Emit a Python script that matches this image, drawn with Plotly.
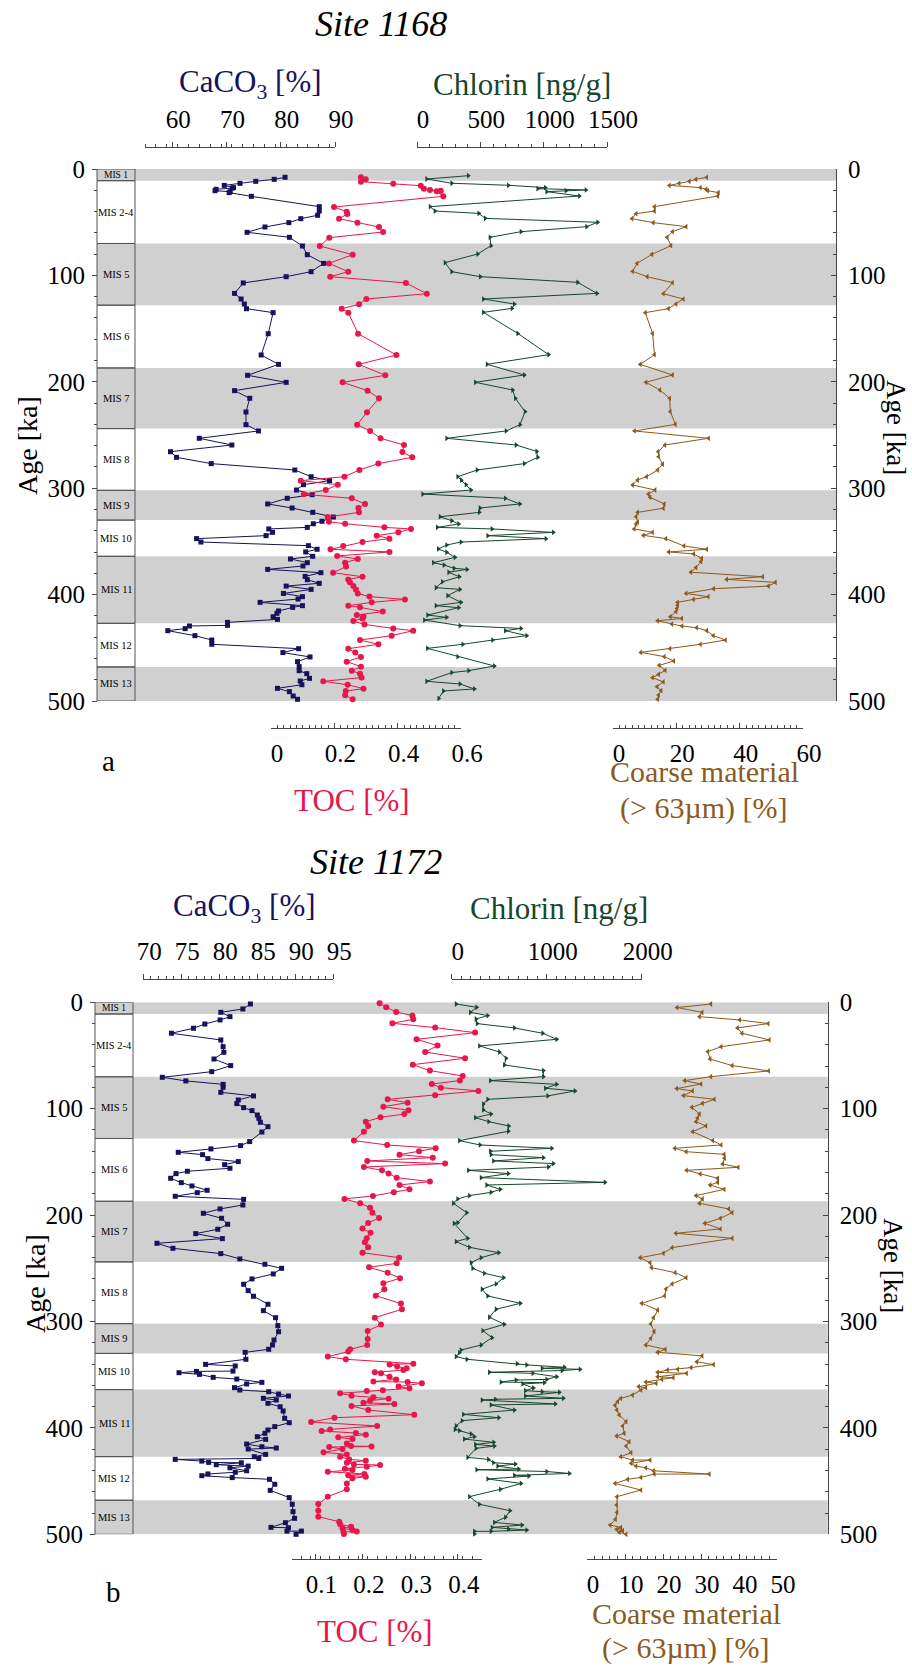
import plotly.graph_objects as go

# ---------------- data (age [ka], value) ----------------
caco3_a = [(7.8,80.8),(9.7,78.8),(11.6,75.4),(13.5,72.5),(15.4,69.6),(17.5,71.3),(17.9,71.1),(19.1,68.1),(20.4,67.9),(21.3,70.7),(22.2,70.5),(25.7,74.6),(35.4,87.1),(39.5,87.1),(43.5,86.8),(46.7,83.7),(50.4,81.5),(54.5,77.1),(59.5,73.8),(64.2,81.6),(72.4,84.0),(80.5,84.9),(88.7,87.9),(96.5,85.6),(101.2,81.0),(107.1,73.1),(116.9,71.5),(122.2,72.7),(126.9,73.3),(131.3,73.7),(135.0,78.6),(154.8,77.7),(174.8,76.4),(183.6,79.6),(193.9,73.9),(200.5,81.0),(208.3,71.5),(215.5,74.3),(228.4,73.6),(240.3,73.6),(246.2,75.9),(253.1,65.0),(259.4,71.0),(265.7,59.7),(271.0,60.8),(276.9,67.2),(282.9,82.6),(289.2,85.6),(292.9,89.0),(296.7,84.2),(301.7,82.9),(306.1,85.8),(309.5,81.2),(314.8,77.6),(318.6,82.1),(322.7,85.9),(327.1,89.7),(331.1,87.6),(333.4,86.0),(336.8,84.9),(338.3,77.8),(341.5,78.5),(344.6,77.3),(347.4,64.5),(350.6,65.3),(354.0,85.1),(357.4,86.7),(359.9,84.6),(364.0,85.9),(366.5,81.8),(370.0,84.9),(373.1,84.1),(376.3,77.6),(379.4,87.4),(382.9,84.5),(386.0,84.9),(389.4,87.1),(392.0,81.0),(395.1,85.6),(398.9,80.5),(401.9,84.0),(404.2,83.2),(407.3,76.2),(410.4,84.0),(412.0,82.2),(415.4,79.6),(417.6,79.3),(420.8,78.6),(423.3,79.4),(426.1,70.2),(428.9,70.2),(429.5,63.2),(432.0,62.4),(433.9,59.2),(438.6,64.2),(442.7,67.3),(446.7,67.3),(450.8,83.3),(454.5,80.4),(458.6,85.4),(463.0,83.1),(467.7,83.4),(471.5,83.4),(474.3,84.8),(478.7,85.3),(481.2,83.6),(484.7,83.9),(488.1,79.4),(491.2,81.6),(495.3,82.3),(498.4,83.1)]

toc_a = [(7.8,0.284),(9.7,0.299),(11.9,0.284),(13.8,0.386),(15.7,0.473),(18.5,0.483),(19.7,0.502),(20.4,0.536),(21.0,0.523),(25.7,0.544),(35.7,0.199),(40.1,0.239),(42.3,0.241),(46.7,0.215),(50.4,0.273),(54.5,0.341),(59.2,0.354),(64.5,0.184),(72.4,0.154),(80.5,0.258),(88.7,0.183),(96.5,0.244),(101.2,0.187),(107.1,0.426),(117.2,0.492),(122.2,0.301),(127.2,0.278),(131.3,0.223),(135.0,0.244),(154.8,0.275),(174.8,0.396),(183.6,0.277),(193.9,0.361),(200.5,0.226),(208.3,0.305),(215.5,0.341),(228.7,0.303),(240.3,0.272),(246.2,0.313),(253.1,0.346),(259.4,0.420),(266.0,0.415),(271.0,0.446),(276.9,0.339),(282.9,0.279),(289.2,0.232),(292.9,0.094),(296.7,0.211),(301.7,0.173),(305.8,0.104),(309.5,0.255),(314.8,0.297),(318.6,0.276),(322.7,0.278),(327.1,0.179),(331.6,0.183),(333.4,0.234),(336.8,0.358),(338.3,0.442),(341.5,0.402),(344.6,0.334),(347.4,0.374),(350.6,0.289),(354.3,0.228),(357.4,0.188),(359.9,0.374),(363.7,0.209),(366.5,0.274),(370.0,0.234),(373.7,0.237),(379.4,0.196),(383.2,0.289),(385.7,0.244),(388.5,0.249),(392.0,0.260),(395.1,0.268),(398.9,0.274),(401.9,0.311),(404.5,0.423),(407.3,0.318),(410.4,0.244),(412.0,0.281),(416.0,0.353),(419.2,0.271),(420.8,0.292),(422.4,0.289),(424.9,0.260),(428.0,0.295),(431.8,0.386),(433.9,0.449),(438.6,0.381),(442.7,0.281),(446.7,0.339),(450.8,0.244),(454.5,0.266),(458.6,0.284),(463.0,0.239),(467.7,0.284),(471.5,0.255),(474.3,0.281),(478.0,0.286),(481.5,0.165),(484.7,0.242),(488.4,0.292),(490.6,0.236),(494.7,0.234),(498.4,0.258)]

chlorin_a = [(6.3,405),(9.4,76),(13.4,274),(15.3,721),(17.5,1013),(18.5,953),(19.7,1334),(20.4,1176),(21.3,1024),(25.4,1282),(35.4,103),(39.5,142),(41.7,487),(46.4,539),(50.1,1426),(54.2,1339),(58.9,821),(64.2,576),(72.1,584),(79.9,479),(88.0,221),(96.5,274),(101.2,500),(106.5,1268),(116.9,1421),(122.2,524),(126.9,768),(131.0,750),(134.7,524),(154.5,795),(174.5,1039),(183.6,553),(193.6,847),(200.5,461),(207.7,755),(215.5,776),(228.1,853),(240.3,813),(246.2,703),(253.1,234),(259.4,782),(265.4,945),(271.0,953),(276.9,847),(282.9,474),(289.2,321),(292.5,350),(296.7,387),(301.7,426),(305.5,45),(309.5,697),(314.8,813),(318.6,497),(322.7,492),(326.8,182),(330.6,274),(333.6,329),(336.8,160),(338.3,592),(341.5,1076),(344.6,558),(347.4,1018),(350.6,347),(353.4,234),(357.1,168),(360.2,234),(365.0,300),(370.0,129),(372.2,213),(375.3,292),(376.3,395),(379.0,250),(383.2,334),(388.0,200),(393.5,150),(395.1,339),(401.0,242),(407.3,347),(410.4,150),(412.3,329),(419.2,84),(421.4,234),(423.9,58),(429.2,339),(431.8,821),(433.9,697),(438.6,866),(442.7,597),(446.7,361),(450.5,82),(458.3,321),(467.1,611),(471.5,408),(473.3,274),(481.5,76),(484.0,339),(488.7,453),(490.6,208),(497.6,171)]

coarse_a = [(7.8,29.6),(9.7,26.2),(11.6,24.1),(13.5,20.9),(15.4,17.8),(17.5,27.6),(19.1,29.4),(20.4,29.9),(22.2,33.3),(25.4,33.1),(35.4,13.1),(39.5,13.1),(42.0,7.3),(46.7,6.0),(50.4,12.7),(54.2,23.1),(58.9,18.8),(64.2,17.1),(72.1,18.3),(80.2,12.3),(88.7,7.6),(96.2,6.2),(101.2,10.8),(106.8,18.8),(117.2,15.9),(122.2,22.2),(126.9,19.9),(131.3,17.5),(135.0,10.2),(154.5,12.5),(174.5,13.1),(183.6,8.6),(193.6,18.8),(200.5,10.4),(207.7,14.8),(215.5,17.9),(228.1,18.1),(240.0,19.7),(246.2,6.8),(253.1,30.2),(259.4,16.4),(265.7,14.3),(270.4,14.4),(277.3,15.7),(282.9,14.1),(289.2,10.6),(292.3,7.8),(297.0,6.2),(301.7,13.3),(305.5,11.2),(308.6,11.7),(314.8,16.2),(318.9,15.9),(322.7,7.8),(326.8,7.3),(331.8,7.8),(333.6,7.3),(338.3,6.7),(341.5,12.5),(344.3,9.6),(347.4,16.7),(354.3,22.4),(357.4,29.6),(359.9,17.6),(361.8,25.5),(365.9,28.0),(369.0,27.8),(374.6,26.2),(379.0,24.6),(383.2,47.3),(385.7,35.9),(388.5,51.3),(392.0,49.1),(394.5,31.8),(398.9,23.1),(402.0,30.1),(404.5,25.4),(407.3,20.4),(409.9,20.4),(413.0,20.2),(416.1,19.9),(420.8,18.1),(422.4,21.7),(424.6,14.1),(427.7,18.6),(429.6,21.8),(431.1,26.4),(433.9,29.6),(438.6,31.7),(442.7,35.5),(446.7,27.6),(450.8,18.0),(454.3,8.8),(458.3,16.2),(462.4,19.2),(466.5,14.6),(471.2,16.5),(474.9,14.4),(478.1,12.5),(482.1,15.9),(486.5,13.9),(490.3,15.2),(494.4,14.4),(498.4,14.1)]

caco3_b = [(1.6,84.1),(6.3,83.1),(9.4,80.2),(13.5,81.4),(16.6,80.1),(20.4,78.1),(24.4,76.6),(29.1,73.7),(35.4,80.2),(41.7,80.5),(47.0,80.6),(53.3,79.3),(59.5,81.5),(65.2,79.0),(70.5,72.5),(73.9,75.6),(77.1,80.5),(79.9,80.5),(84.6,80.2),(88.0,84.5),(91.8,82.5),(95.2,82.3),(99.0,83.2),(101.8,84.3),(105.9,85.0),(109.0,85.2),(112.8,85.4),(116.9,86.4),(121.9,85.6),(130.9,84.0),(134.7,82.8),(137.8,78.9),(141.0,74.6),(143.2,77.8),(146.9,78.5),(149.7,82.5),(152.6,80.7),(156.0,81.4),(158.8,75.8),(161.0,74.3),(165.4,73.6),(169.5,75.0),(172.6,76.4),(176.7,78.4),(178.9,77.1),(182.3,74.2),(185.2,83.2),(190.5,83.1),(194.2,80.1),(198.3,77.9),(203.0,80.3),(208.6,81.1),(213.3,79.8),(217.4,76.9),(222.1,80.4),(226.5,71.8),(231.2,73.9),(236.2,80.2),(241.2,82.7),(246.2,86.0),(250.0,88.2),(255.3,87.1),(260.0,84.3),(265.0,83.2),(271.0,83.8),(276.3,84.5),(283.8,86.4),(289.8,85.8),(296.4,87.4),(303.9,87.7),(309.6,87.8),(317.4,87.2),(322.1,87.0),(326.1,86.5),(329.0,83.4),(335.5,83.5),(340.3,78.2),(341.8,82.1),(346.6,81.8),(346.9,77.0),(348.1,74.7),(349.7,77.4),(352.5,79.2),(354.1,82.3),(357.2,85.6),(358.7,83.6),(362.2,82.0),(364.4,82.7),(366.0,86.5),(368.2,87.8),(370.0,89.1),(372.2,85.8),(373.8,87.5),(376.9,86.4),(380.1,88.0),(384.1,88.4),(391.0,88.6),(395.1,89.2),(398.8,87.3),(402.0,86.4),(405.1,86.0),(408.3,85.0),(410.8,86.1),(415.2,83.6),(417.7,85.6),(418.9,87.5),(419.9,83.8),(424.9,86.1),(427.1,84.6),(428.7,85.2),(429.6,74.2),(431.2,77.7),(432.4,78.6),(432.8,82.9),(434.6,79.6),(435.9,83.8),(437.5,81.4),(440.3,83.6),(441.7,82.1),(443.3,78.5),(444.9,77.7),(446.7,81.7),(448.3,86.6),(453.0,87.3),(458.7,86.7),(465.5,89.2),(471.8,89.6),(478.7,89.7),(485.0,89.9),(489.1,88.7),(493.5,86.8),(493.8,89.1),(497.0,88.9),(497.0,90.8),(500.0,90.1)]

toc_b = [(0.9,0.235),(4.7,0.249),(9.1,0.270),(12.5,0.304),(16.0,0.306),(19.7,0.262),(23.8,0.352),(28.5,0.436),(34.8,0.313),(40.7,0.357),(46.7,0.331),(52.6,0.415),(58.6,0.305),(64.2,0.341),(69.2,0.410),(73.6,0.404),(76.8,0.345),(80.2,0.364),(83.3,0.443),(87.4,0.352),(91.2,0.252),(94.3,0.294),(98.1,0.243),(101.5,0.296),(105.0,0.287),(108.1,0.237),(112.2,0.206),(116.2,0.211),(121.6,0.202),(130.0,0.181),(134.1,0.251),(137.2,0.353),(140.0,0.318),(143.2,0.277),(146.0,0.347),(149.1,0.209),(151.6,0.373),(154.8,0.202),(157.9,0.240),(161.0,0.254),(164.8,0.271),(168.5,0.341),(171.7,0.277),(175.8,0.298),(178.6,0.265),(182.0,0.221),(184.8,0.161),(188.9,0.194),(193.0,0.215),(197.7,0.220),(202.7,0.234),(207.4,0.211),(212.7,0.199),(216.5,0.216),(221.8,0.208),(225.6,0.204),(230.3,0.211),(235.3,0.199),(240.0,0.276),(245.3,0.271),(249.1,0.213),(254.1,0.252),(259.4,0.278),(264.1,0.243),(269.7,0.245),(275.7,0.227),(283.2,0.280),(288.5,0.282),(296.4,0.225),(302.9,0.238),(308.9,0.210),(316.4,0.210),(322.1,0.209),(326.1,0.173),(328.3,0.169),(333.0,0.126),(335.5,0.164),(339.6,0.306),(340.3,0.256),(342.4,0.272),(344.0,0.292),(345.6,0.285),(347.8,0.225),(348.7,0.238),(351.9,0.256),(354.4,0.270),(356.5,0.222),(356.9,0.294),(358.1,0.324),(361.2,0.275),(362.8,0.298),(364.7,0.242),(365.3,0.208),(367.5,0.152),(369.7,0.176),(371.3,0.222),(372.5,0.254),(374.4,0.215),(376.3,0.201),(377.5,0.266),(379.4,0.176),(383.2,0.211),(387.6,0.308),(390.4,0.140),(394.5,0.091),(398.2,0.230),(401.4,0.131),(402.9,0.113),(404.8,0.185),(406.4,0.206),(408.9,0.148),(410.5,0.178),(414.6,0.166),(417.1,0.175),(417.4,0.218),(418.0,0.129),(419.9,0.157),(423.0,0.117),(424.9,0.166),(427.1,0.152),(429.6,0.171),(430.8,0.206),(432.7,0.166),(434.3,0.181),(434.9,0.236),(436.5,0.208),(438.4,0.162),(439.6,0.178),(441.2,0.126),(443.3,0.203),(444.6,0.169),(445.9,0.206),(447.4,0.178),(452.2,0.166),(457.7,0.166),(464.6,0.126),(471.5,0.106),(477.8,0.106),(483.4,0.106),(488.2,0.150),(490.6,0.152),(492.8,0.175),(494.4,0.157),(496.0,0.178),(497.3,0.187),(497.8,0.159),(499.7,0.160)]

chlorin_b = [(1.6,46),(4.7,263),(9.4,196),(12.5,379),(15.7,256),(20.0,267),(24.1,660),(29.1,958),(34.8,1105),(41.0,291),(46.7,502),(52.6,572),(58.9,554),(64.2,965),(69.9,965),(73.6,407),(77.1,1105),(80.8,986),(83.3,1298),(88.0,1011),(91.2,379),(95.6,333),(101.2,333),(105.0,414),(108.4,249),(112.2,389),(116.2,600),(121.2,596),(130.0,81),(134.1,298),(137.2,1053),(140.0,407),(143.2,414),(146.0,965),(149.1,439),(151.6,1070),(154.8,1018),(157.9,175),(161.0,596),(164.8,309),(169.2,1614),(171.7,368),(175.8,512),(178.6,414),(181.7,186),(184.8,63),(188.9,17),(197.7,158),(207.1,63),(207.7,24),(221.8,168),(224.9,46),(230.3,186),(235.3,495),(240.0,309),(244.7,204),(250.0,221),(254.7,344),(258.8,547),(264.7,467),(269.7,319),(276.0,379),(282.9,723),(288.5,467),(296.0,396),(302.6,554),(308.6,326),(315.2,425),(322.1,309),(326.8,98),(329.3,81),(333.0,46),(335.5,161),(339.6,688),(340.8,789),(343.0,1186),(344.0,951),(344.9,1351),(346.1,1161),(347.7,396),(348.7,853),(351.9,1105),(354.4,1000),(355.0,677),(356.9,519),(357.5,975),(358.7,747),(362.5,860),(365.0,775),(366.0,951),(366.6,1133),(370.0,775),(372.2,1175),(373.1,460),(373.8,319),(377.5,1091),(378.4,414),(383.2,660),(387.3,123),(390.4,495),(393.2,109),(398.2,46),(401.4,35),(402.6,81),(405.7,204),(408.3,239),(410.5,133),(413.6,442),(415.5,249),(417.1,449),(419.2,256),(427.7,168),(429.6,386),(432.7,439),(434.0,670),(435.9,484),(438.7,705),(439.3,263),(441.0,1000),(442.8,1239),(444.6,660),(445.3,811),(448.0,379),(452.2,730),(457.7,512),(464.6,186),(471.8,291),(477.8,614),(484.0,565),(488.8,449),(491.3,740),(493.5,425),(495.0,596),(496.0,789),(497.2,414),(497.2,239),(499.7,239)]

coarse_b = [(1.6,32.6),(5.0,23.7),(9.4,30.3),(13.5,29.6),(16.6,40.2),(20.0,47.7),(24.1,39.6),(29.1,40.8),(35.4,48.0),(41.7,35.3),(46.4,31.8),(53.3,32.4),(59.5,38.2),(64.5,47.8),(69.9,32.6),(73.6,25.7),(76.8,30.0),(81.1,23.6),(83.3,27.8),(87.7,25.4),(91.2,33.5),(94.9,30.4),(98.7,27.6),(105.0,29.6),(108.7,29.1),(112.2,28.7),(116.2,31.3),(121.6,27.8),(130.0,33.1),(134.1,35.3),(137.2,23.1),(140.4,26.1),(142.9,36.1),(146.6,36.2),(151.9,35.7),(155.1,39.8),(157.9,26.2),(161.3,29.8),(165.4,34.4),(169.2,34.4),(171.7,32.4),(175.8,36.1),(181.7,28.7),(184.8,30.4),(188.9,29.6),(194.2,37.3),(197.7,38.2),(203.0,35.1),(207.7,31.0),(213.0,35.1),(217.1,23.4),(221.8,38.2),(230.6,22.4),(235.9,20.1),(240.0,14.0),(244.7,16.6),(249.4,17.0),(254.1,23.2),(258.8,26.1),(264.7,22.4),(269.4,20.8),(276.0,20.4),(282.9,14.4),(289.2,18.6),(296.4,17.5),(302.3,16.8),(309.5,17.7),(315.8,16.8),(322.1,15.5),(326.1,20.6),(328.9,18.6),(332.3,30.3),(337.9,28.9),(340.5,33.3),(343.3,27.4),(344.9,23.9),(345.5,21.2),(347.8,18.6),(348.7,26.2),(351.9,18.6),(352.8,22.7),(354.4,19.7),(356.9,15.5),(358.1,18.2),(361.2,13.6),(362.2,15.5),(364.4,14.2),(369.1,12.0),(372.2,8.9),(375.3,8.1),(378.7,7.4),(383.2,7.9),(387.9,8.5),(394.2,10.3),(398.2,9.4),(405.1,9.8),(407.6,7.8),(412.9,11.1),(417.1,10.3),(423.3,11.6),(427.1,8.9),(430.2,12.0),(430.2,16.6),(433.3,11.6),(435.9,12.9),(437.5,15.5),(440.3,17.5),(443.4,32.2),(443.4,17.7),(446.5,14.2),(448.3,10.7),(452.2,7.4),(458.4,14.2),(464.6,7.9),(472.4,7.8),(479.3,7.9),(485.9,7.5),(491.3,6.1),(493.5,8.9),(495.3,7.8),(496.6,9.4),(498.1,8.5),(500.0,10.3)]

mis_labels = ["MIS 1", "MIS 2-4", "MIS 5", "MIS 6", "MIS 7", "MIS 8", "MIS 9", "MIS 10", "MIS 11", "MIS 12", "MIS 13"]
mis_bounds = [0, 11, 70, 128, 187, 244, 302, 330, 364, 427, 468, 500]
age_ticks = [0, 100, 200, 300, 400, 500]

# ---------------- layout helpers ----------------
W, H = 912, 1667
def fx(p): return p / W
def fy(p): return 1 - p / H

FONT = "Liberation Serif, Times New Roman, serif"
C_CA, C_TOC, C_CHL, C_CO = "#16125c", "#e8174b", "#17472d", "#8c5a1c"
BAND, AXC = "#d0d0d0", "#444444"

panels = [
    dict(series=(caco3_a, toc_a, chlorin_a, coarse_a), top=169, bot=701, left=97, col=135, right=836,
         ytop=148, ybot=728,
         ax=dict(ca=(145, 335, [55, 90], [60, 70, 80, 90], 2),
                 chl=(417, 607, [0, 1500], [0, 500, 1000, 1500], 100),
                 toc=(271, 461, [0, 0.6], [0, 0.2, 0.4, 0.6], 0.02),
                 co=(613, 803, [0, 60], [0, 20, 40, 60], 2)),
         site="Site 1168", site_xy=(381, 24), ca_t=(250, 84), chl_t=(522, 84), toc_t=(352, 800),
         co_t=(704, 771, 808), letter=("a", 108, 761), ageL=(27, 446), ageR=(896, 427)),
    dict(series=(caco3_b, toc_b, chlorin_b, coarse_b), top=1002.3, bot=1534.3, left=95, col=133, right=827.7,
         ytop=980, ybot=1559,
         ax=dict(ca=(143.3, 333.3, [70, 95], [70, 75, 80, 85, 90, 95], 1),
                 chl=(451.7, 641.7, [0, 2000], [0, 1000, 2000], 100),
                 toc=(291.7, 481.7, [0.05, 0.45], [0.1, 0.2, 0.3, 0.4], 0.02),
                 co=(587, 777, [0, 50], [0, 10, 20, 30, 40, 50], 2)),
         site="Site 1172", site_xy=(376, 862), ca_t=(245, 908), chl_t=(559, 908), toc_t=(375, 1631),
         co_t=(686, 1613, 1648), letter=("b", 113, 1592), ageL=(35, 1284), ageR=(893, 1265)),
]

fig = go.Figure()
layout = dict(width=W, height=H, margin=dict(l=0, r=0, t=0, b=0, pad=0, autoexpand=False), showlegend=False,
              plot_bgcolor="rgba(0,0,0,0)", paper_bgcolor="white")
shapes, annots = [], []

def ann(text, x, y, size, color="black", angle=0):
    annots.append(dict(text=text, x=fx(x), y=fy(y), xref="paper", yref="paper", showarrow=False,
                       xanchor="center", yanchor="middle", textangle=angle,
                       font=dict(family=FONT, size=size, color=color)))

# hidden helper y-axes: their domain edge fixes where each row of value axes is drawn
helper = {}
hid = 5
for pi, P in enumerate(panels):
    for side in ("top", "bottom"):
        if side == "top":
            dom = [fy(P["ytop"]) - 0.003, fy(P["ytop"])]
        else:
            dom = [fy(P["ybot"]), fy(P["ybot"]) + 0.003]
        layout[f"yaxis{hid}"] = dict(domain=dom, anchor="free", position=0, range=[0, 1], showgrid=False,
                                     zeroline=False, showline=False, ticks="", showticklabels=False,
                                     automargin=False, fixedrange=True)
        helper[(pi, side)] = f"y{hid}"
        hid += 1

xi = 1
for pi, P in enumerate(panels):
    yl = "y" if pi == 0 else "y3"
    yr = "y2" if pi == 0 else "y4"
    ydom = [fy(P["bot"]), fy(P["top"])]
    yax_common = dict(domain=ydom, range=[500, 0], tickmode="array", tickvals=age_ticks, showgrid=False,
                      zeroline=False, automargin=False,
                      tickfont=dict(family=FONT, size=25, color="black"), tickcolor=AXC, ticklen=5,
                      anchor="free")
    minor_common = dict(tickmode="linear", tick0=0, dtick=20, ticklen=3, tickcolor=AXC)
    layout["yaxis" if pi == 0 else "yaxis3"] = dict(yax_common, position=fx(P["left"]), side="left",
                                                     ticks="outside", showline=False, ticklabelstandoff=2,
                                                     minor=dict(minor_common, ticks="outside"))
    layout["yaxis2" if pi == 0 else "yaxis4"] = dict(yax_common, position=fx(P["right"]), side="right",
                                                      overlaying=yl, ticks="inside", showline=True,
                                                      linecolor=AXC, linewidth=1, ticklabelstandoff=6,
                                                      minor=dict(minor_common, ticks="inside"))

    # MIS bands and label column
    for k, lab in enumerate(mis_labels):
        y0, y1 = mis_bounds[k], mis_bounds[k + 1]
        if k % 2 == 0:
            shapes.append(dict(type="rect", xref="paper", yref=yl, x0=fx(P["left"]), x1=fx(P["right"]),
                               y0=y0, y1=y1, fillcolor=BAND, line=dict(width=0), layer="below"))
    for k, lab in enumerate(mis_labels):
        y0, y1 = mis_bounds[k], mis_bounds[k + 1]
        shapes.append(dict(type="rect", xref="paper", yref=yl, x0=fx(P["left"]), x1=fx(P["col"]),
                           y0=y0, y1=y1, line=dict(color="#555555", width=1), fillcolor="rgba(0,0,0,0)",
                           layer="below"))
        annots.append(dict(text=lab, x=fx((P["left"] + P["col"]) / 2), y=(y0 + y1) / 2, xref="paper", yref=yl,
                           showarrow=False, xanchor="center", yanchor="middle",
                           font=dict(family=FONT, size=10.5 if k else 9.5, color="black")))

    ca, toc, chl, co = P["series"]
    specs = [("ca", ca, C_CA, "square", 5, "top"),
             ("chl", chl, C_CHL, "triangle-right", 5, "top"),
             ("toc", toc, C_TOC, "circle", 6, "bottom"),
             ("co", co, C_CO, "triangle-left", 5, "bottom")]
    first_x = None
    for key, ser, col, sym, msz, side in specs:
        x0p, x1p, rng, tv, mdt = P["ax"][key]
        name = "xaxis" if xi == 1 else f"xaxis{xi}"
        xref = "x" if xi == 1 else f"x{xi}"
        if first_x is None:
            first_x = xref
        hy = helper[(pi, side)]
        axd = dict(domain=[fx(x0p), fx(x1p)], range=rng, side=side, anchor=hy, automargin=False,
                   showgrid=False, zeroline=False, showline=True, linecolor=AXC, linewidth=1,
                   tickmode="array", tickvals=tv, ticks="outside" if side == "top" else "inside",
                   ticklen=5, tickcolor=AXC, ticklabelshift=6,
                   ticklabelstandoff=4 if side == "top" else 3,
                   tickfont=dict(family=FONT, size=25, color="black"),
                   minor=dict(tickmode="linear", tick0=rng[0], dtick=mdt, ticklen=3, tickcolor=AXC,
                              ticks="outside" if side == "top" else "inside"))
        layout[name] = axd
        # empty trace that registers the axis row with its helper axis
        fig.add_trace(go.Scatter(x=[], y=[], xaxis=xref, yaxis=hy, mode="markers", hoverinfo="skip"))
        ages = [a for a, v in ser]
        vals = [v for a, v in ser]
        fig.add_trace(go.Scatter(x=vals, y=ages, xaxis=xref, yaxis=yl, mode="lines+markers",
                                 line=dict(color=col, width=1), cliponaxis=False, hoverinfo="skip",
                                 marker=dict(symbol=sym, size=msz, color=col)))
        xi += 1
    # empty trace so that the right-hand age axis is drawn
    fig.add_trace(go.Scatter(x=[], y=[], xaxis=first_x, yaxis=yr, mode="markers", hoverinfo="skip"))

    ann(f"<i>{P['site']}</i>", *P["site_xy"], 36)
    ann("CaCO<sub>3</sub> [%]", *P["ca_t"], 31, C_CA)
    ann("Chlorin [ng/g]", *P["chl_t"], 31, C_CHL)
    ann("TOC [%]", *P["toc_t"], 31, C_TOC)
    ann("Coarse material", P["co_t"][0], P["co_t"][1], 30, C_CO)
    ann("(&gt; 63µm) [%]", P["co_t"][0], P["co_t"][2], 30, C_CO)
    ann(P["letter"][0], P["letter"][1], P["letter"][2], 29)
    ann("Age [ka]", *P["ageL"], 28, "black", -90)
    ann("Age [ka]", *P["ageR"], 27, "black", 90)

layout["shapes"] = shapes
layout["annotations"] = annots
fig.update_layout(**layout)
fig.write_html("out.html")
